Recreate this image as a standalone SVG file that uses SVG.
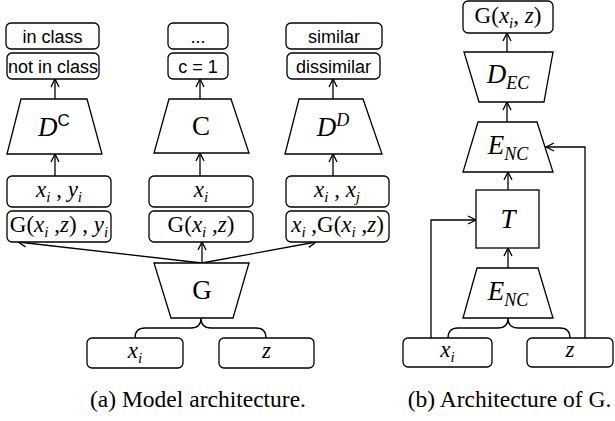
<svg xmlns="http://www.w3.org/2000/svg" width="615" height="421" viewBox="0 0 615 421">
<defs>
<marker id="ah" markerUnits="userSpaceOnUse" markerWidth="12" markerHeight="12" refX="9" refY="5" orient="auto">
<path d="M1,1 L9,5 L1,9" fill="none" stroke="#000" stroke-width="1.3"/>
</marker>
<style>
.b{fill:#fff;stroke:#000;stroke-width:1.3}
.l{fill:none;stroke:#000;stroke-width:1.3}
.a{fill:none;stroke:#000;stroke-width:1.3;marker-end:url(#ah)}
.s{font-family:"Liberation Sans",Arial,sans-serif;font-size:18px;text-anchor:middle}
.m{font-family:"Liberation Serif","Times New Roman",serif;font-size:23px;text-anchor:middle}
.t{font-family:"Liberation Serif","Times New Roman",serif;font-size:27px;text-anchor:middle}
.c{font-family:"Liberation Serif","Times New Roman",serif;font-size:23.5px;text-anchor:middle}
.i{font-style:italic}
</style>
</defs>
<rect width="615" height="421" fill="#fff"/>

<g id="connectors">
<line class="a" x1="55" y1="99" x2="55" y2="79"/>
<line class="a" x1="55" y1="176" x2="55" y2="154"/>
<line class="a" x1="200" y1="99" x2="200" y2="79"/>
<line class="a" x1="200" y1="176" x2="200" y2="153"/>
<line class="a" x1="333" y1="99" x2="333" y2="79"/>
<line class="a" x1="333" y1="176" x2="333" y2="154"/>
<line class="a" x1="202" y1="263" x2="18" y2="242"/>
<line class="a" x1="202" y1="263" x2="202" y2="242"/>
<line class="a" x1="202" y1="263" x2="316" y2="242"/>
<path class="l" d="M135,338 Q135,328 145,328 L191,328 Q201,328 201,318 Q201,328 211,328 L256,328 Q266,328 266,338"/>
<line class="a" x1="507" y1="52" x2="507" y2="33"/>
<line class="a" x1="507" y1="122" x2="507" y2="102"/>
<line class="a" x1="508" y1="190" x2="508" y2="172"/>
<line class="a" x1="508" y1="268" x2="508" y2="248"/>
<polyline class="a" points="585,338 585,147 546,147"/>
<polyline class="a" points="431,338 431,220 476,220"/>
<path class="l" d="M448,338 Q448,328 458,328 L498,328 Q508,328 508,318 Q508,328 518,328 L560,328 Q570,328 570,338"/>
</g>

<g id="n-inclass"><rect class="b" x="6" y="23" width="93" height="26" rx="5"/><text class="s" x="52.5" y="42.5">in class</text></g>
<g id="n-notinclass"><rect class="b" x="7" y="53" width="92" height="26" rx="5"/><text class="s" x="53" y="72.5">not in class</text></g>
<g id="n-DC"><polygon class="b" points="21,99 87,99 102,154 7,154"/><text class="t" x="54" y="136"><tspan class="i">D</tspan><tspan font-family="Liberation Sans, Arial, sans-serif" font-size="17" dy="-10">C</tspan></text></g>
<g id="n-xy"><rect class="b" x="7" y="176" width="104" height="31" rx="5"/><text class="m" x="59" y="197"><tspan class="i">x</tspan><tspan class="i" font-size="15" dy="5">i</tspan><tspan dy="-5"> , </tspan><tspan class="i">y</tspan><tspan class="i" font-size="15" dy="5">i</tspan></text></g>
<g id="n-Gy"><rect class="b" x="7" y="211" width="104" height="31" rx="5"/><text class="m" x="59" y="232">G(<tspan class="i">x</tspan><tspan class="i" font-size="15" dy="5">i</tspan><tspan dy="-5"> ,</tspan><tspan class="i">z</tspan>) , <tspan class="i">y</tspan><tspan class="i" font-size="15" dy="5">i</tspan></text></g>

<g id="n-dots"><rect class="b" x="168" y="23" width="60" height="26" rx="5"/><text class="s" x="198" y="42.5">...</text></g>
<g id="n-c1"><rect class="b" x="168" y="53" width="60" height="26" rx="5"/><text class="s" x="198" y="72.5">c = 1</text></g>
<g id="n-C"><polygon class="b" points="169,99 231,99 249,153 154,153"/><text class="t" x="201" y="135">C</text></g>
<g id="n-x"><rect class="b" x="149" y="176" width="104" height="31" rx="5"/><text class="m" x="201" y="197"><tspan class="i">x</tspan><tspan class="i" font-size="15" dy="5">i</tspan></text></g>
<g id="n-Gxz"><rect class="b" x="149" y="211" width="104" height="31" rx="5"/><text class="m" x="201" y="232">G(<tspan class="i">x</tspan><tspan class="i" font-size="15" dy="5">i</tspan><tspan dy="-5"> ,</tspan><tspan class="i">z</tspan>)</text></g>

<g id="n-similar"><rect class="b" x="286" y="23" width="96" height="26" rx="5"/><text class="s" x="334" y="42.5">similar</text></g>
<g id="n-dissimilar"><rect class="b" x="287" y="53" width="93" height="26" rx="5"/><text class="s" x="333.5" y="72.5">dissimilar</text></g>
<g id="n-DD"><polygon class="b" points="299,99 363,99 382,154 285,154"/><text class="t" x="333" y="136"><tspan class="i">D</tspan><tspan class="i" font-size="18" dy="-10">D</tspan></text></g>
<g id="n-xx"><rect class="b" x="286" y="176" width="103" height="31" rx="5"/><text class="m" x="337" y="197"><tspan class="i">x</tspan><tspan class="i" font-size="15" dy="5">i</tspan><tspan dy="-5"> , </tspan><tspan class="i">x</tspan><tspan class="i" font-size="15" dy="5">j</tspan></text></g>
<g id="n-xG"><rect class="b" x="286" y="211" width="103" height="31" rx="5"/><text class="m" x="337.5" y="232"><tspan class="i">x</tspan><tspan class="i" font-size="15" dy="5">i</tspan><tspan dy="-5"> ,G(</tspan><tspan class="i">x</tspan><tspan class="i" font-size="15" dy="5">i</tspan><tspan dy="-5"> ,</tspan><tspan class="i">z</tspan>)</text></g>

<g id="n-G"><polygon class="b" points="154,263 249,263 233,318 171,318"/><text class="t" x="202" y="299">G</text></g>
<g id="n-xi-a"><rect class="b" x="87" y="338" width="96" height="30" rx="5"/><text class="m" x="135" y="358"><tspan class="i">x</tspan><tspan class="i" font-size="15" dy="5">i</tspan></text></g>
<g id="n-z-a"><rect class="b" x="219" y="338" width="95" height="30" rx="5"/><text class="m i" x="266.5" y="358">z</text></g>

<g id="n-Gout"><rect class="b" x="463" y="1" width="90" height="32" rx="5"/><text class="m" x="508" y="23">G(<tspan class="i">x</tspan><tspan class="i" font-size="15" dy="5">i</tspan><tspan dy="-5">, </tspan><tspan class="i">z</tspan>)</text></g>
<g id="n-DEC"><polygon class="b" points="464,52 553,52 544,102 479,102"/><text class="t" x="508" y="83"><tspan class="i">D</tspan><tspan class="i" font-size="18" dy="6">EC</tspan></text></g>
<g id="n-ENC1"><polygon class="b" points="478,122 537,122 553,172 463,172"/><text class="t" x="508" y="154"><tspan class="i">E</tspan><tspan class="i" font-size="18" dy="6">NC</tspan></text></g>
<g id="n-T"><rect class="b" x="476" y="190" width="63" height="58"/><text class="t i" x="508" y="228">T</text></g>
<g id="n-ENC2"><polygon class="b" points="477,268 538,268 553,318 463,318"/><text class="t" x="508" y="300"><tspan class="i">E</tspan><tspan class="i" font-size="18" dy="6">NC</tspan></text></g>
<g id="n-xi-b"><rect class="b" x="403" y="338" width="89" height="29" rx="5"/><text class="m" x="447.5" y="357"><tspan class="i">x</tspan><tspan class="i" font-size="15" dy="5">i</tspan></text></g>
<g id="n-z-b"><rect class="b" x="527" y="338" width="86" height="29" rx="5"/><text class="m i" x="570" y="357">z</text></g>

<text class="c" x="198" y="407">(a) Model architecture.</text>
<text class="c" x="509.5" y="407">(b) Architecture of G.</text>
</svg>
